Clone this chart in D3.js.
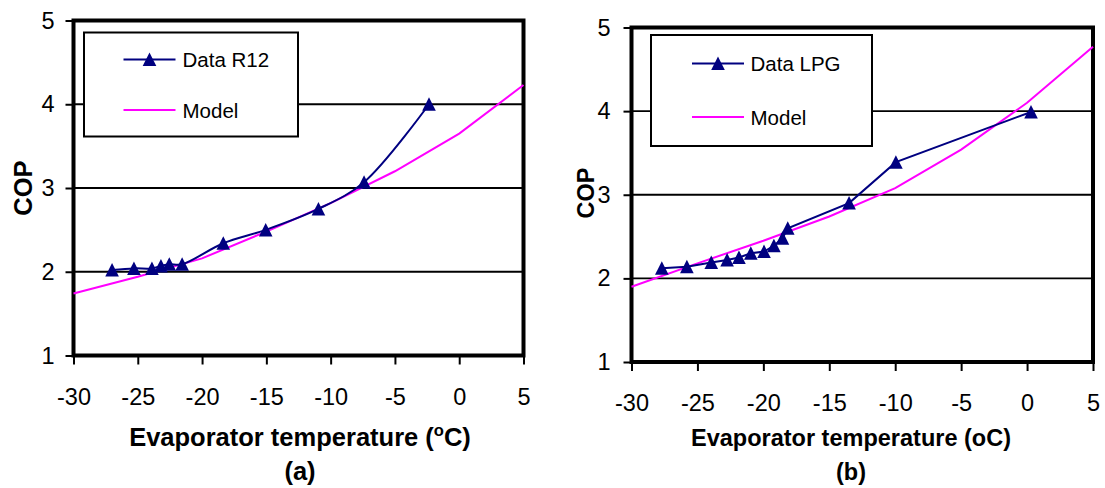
<!DOCTYPE html>
<html>
<head>
<meta charset="utf-8">
<script src="https://cdn.jsdelivr.net/npm/d3@7"></script>
<style>
body { margin: 0; background: #fff; }
svg { display: block; font-family: "Liberation Sans", Arial, sans-serif; }
</style>
</head>
<body>
<svg id="chart" width="1105" height="488"></svg>
<script>
// axis ticks, same for both panels
var xTicks = [-30, -25, -20, -15, -10, -5, 0, 5];
var yTicks = [1, 2, 3, 4, 5];
var gridTicks = [2, 3, 4];

// panel (a) : R12
var r12Temp = [-27.0, -25.3, -23.9, -23.2, -22.55, -21.55, -18.35, -15.05, -10.95, -7.4, -2.35];
var r12Cop  = [2.02, 2.04, 2.04, 2.07, 2.09, 2.09, 2.34, 2.50, 2.75, 3.07, 4.00];
var modelATemp = [-30, -25, -20, -15, -10, -5, 0, 5];
var modelACop  = [1.74, 1.94, 2.16, 2.48, 2.82, 3.20, 3.65, 4.23];

// panel (b) : LPG
var lpgTemp = [-27.7, -25.8, -23.95, -22.75, -21.85, -20.95, -19.95, -19.2, -18.55, -18.15, -13.5, -9.95, 0.3];
var lpgCop  = [2.12, 2.14, 2.19, 2.22, 2.25, 2.30, 2.32, 2.39, 2.48, 2.60, 2.90, 3.39, 3.99];
var modelBTemp = [-30, -25, -20, -15, -10, -5, 0, 5];
var modelBCop  = [1.90, 2.18, 2.45, 2.74, 3.08, 3.54, 4.10, 4.77];

var navy = "#000080", pink = "#ff00ff";
var svg = d3.select("#chart");

function zip(a, b) {
	return a.map(function (v, i) { return [v, b[i]]; });
}

function triangle(sel) {
	sel.attr("d", "M0,-7L6.8,6.5L-6.8,6.5Z").attr("fill", navy);
}

function drawPanel(p) {
	var x = d3.scaleLinear().domain([-30, 5]).range([p.left, p.right]);
	var y = d3.scaleLinear().domain([1, 5]).range([p.bottom, p.top]);
	var g = svg.append("g");

	// horizontal grid
	g.selectAll(".grid").data(gridTicks).enter().append("line")
		.attr("x1", p.left).attr("x2", p.right)
		.attr("y1", function (d) { return y(d); })
		.attr("y2", function (d) { return y(d); })
		.attr("stroke", "#000").attr("stroke-width", 1.8);

	// axes
	var ya = g.append("g")
		.attr("transform", "translate(" + p.left + ",0)")
		.call(d3.axisLeft(y).tickValues(yTicks).tickSize(8).tickPadding(p.yPad)
			.tickFormat(function (d) { return String(d); }));
	var xa = g.append("g")
		.attr("transform", "translate(0," + p.bottom + ")")
		.call(d3.axisBottom(x).tickValues(xTicks).tickSize(9).tickPadding(p.xPad)
			.tickFormat(function (d) { return String(d); }));
	[ya, xa].forEach(function (a) {
		a.attr("font-size", null).attr("font-family", null);
		a.select(".domain").remove();
		a.selectAll("line").attr("stroke", "#000").attr("stroke-width", 2);
		a.selectAll("text").attr("fill", "#000").style("font-size", p.tickFont + "px");
	});

	// plot frame
	g.append("rect")
		.attr("x", p.left).attr("y", p.top)
		.attr("width", p.right - p.left).attr("height", p.bottom - p.top)
		.attr("fill", "none").attr("stroke", "#000").attr("stroke-width", 4);

	// legend box
	g.append("rect")
		.attr("x", p.leg.x).attr("y", p.leg.y).attr("width", p.leg.w).attr("height", p.leg.h)
		.attr("fill", "#fff").attr("stroke", "#000").attr("stroke-width", 2);
	g.append("line")
		.attr("x1", p.leg.lx1).attr("x2", p.leg.lx2).attr("y1", p.leg.y1).attr("y2", p.leg.y1)
		.attr("stroke", navy).attr("stroke-width", 2);
	g.append("path")
		.attr("transform", "translate(" + ((p.leg.lx1 + p.leg.lx2) / 2) + "," + p.leg.y1 + ")")
		.call(triangle);
	g.append("line")
		.attr("x1", p.leg.lx1).attr("x2", p.leg.lx2).attr("y1", p.leg.y2).attr("y2", p.leg.y2)
		.attr("stroke", pink).attr("stroke-width", 2);
	g.append("text").attr("x", p.leg.tx).attr("y", p.leg.y1 + 7.5)
		.style("font-size", "20.5px").text(p.dataName);
	g.append("text").attr("x", p.leg.tx).attr("y", p.leg.y2 + 7.5)
		.style("font-size", "20.5px").text("Model");

	// model line
	var line = d3.line().x(function (d) { return x(d[0]); }).y(function (d) { return y(d[1]); });
	g.append("path")
		.attr("d", line(zip(p.modelT, p.modelC)))
		.attr("fill", "none").attr("stroke", pink).attr("stroke-width", 2);

	// measured data
	var pts = zip(p.dataT, p.dataC);
	g.append("path")
		.attr("d", line.curve(p.curve)(pts))
		.attr("fill", "none").attr("stroke", navy).attr("stroke-width", 2);
	g.selectAll(".mark").data(pts).enter().append("path")
		.attr("transform", function (d) { return "translate(" + x(d[0]) + "," + y(d[1]) + ")"; })
		.call(triangle);

	// axis titles
	var t = g.append("text")
		.attr("x", p.titleX).attr("y", 446)
		.attr("text-anchor", "middle")
		.style("font-size", p.titleFont + "px").style("font-weight", "bold");
	t.append("tspan").text("Evaporator temperature (");
	if (p.superO) {
		t.append("tspan").attr("dy", -10).style("font-size", (p.titleFont * 0.65) + "px").text("o");
		t.append("tspan").attr("dy", 10).text("C)");
	} else {
		t.append("tspan").text("oC)");
	}
	g.append("text")
		.attr("x", p.titleX).attr("y", 480)
		.attr("text-anchor", "middle")
		.style("font-size", p.titleFont + "px").style("font-weight", "bold")
		.text(p.label);
	g.append("text")
		.attr("transform", "translate(" + p.copX + "," + p.copY + ") rotate(-90)")
		.attr("text-anchor", "middle")
		.style("font-size", p.titleFont + "px").style("font-weight", "bold")
		.text("COP");
}

drawPanel({
	left: 73.5, right: 523.5, top: 20.5, bottom: 355.5,
	yPad: 11, xPad: 24, tickFont: 23.5, titleFont: 25.5,
	dataT: r12Temp, dataC: r12Cop, modelT: modelATemp, modelC: modelACop,
	curve: d3.curveCatmullRom.alpha(0.5), dataName: "Data R12",
	leg: { x: 84, y: 32.5, w: 214, h: 104, lx1: 123.5, lx2: 175.5, y1: 59.5, y2: 110, tx: 182.5 },
	titleX: 300, label: "(a)", superO: true, copX: 31.5, copY: 188
});

drawPanel({
	left: 631.5, right: 1093, top: 27.5, bottom: 362,
	yPad: 13, xPad: 23, tickFont: 23.5, titleFont: 23.5,
	dataT: lpgTemp, dataC: lpgCop, modelT: modelBTemp, modelC: modelBCop,
	curve: d3.curveLinear, dataName: "Data LPG",
	leg: { x: 651, y: 35, w: 221, h: 111, lx1: 692, lx2: 744, y1: 63.5, y2: 117, tx: 750.5 },
	titleX: 851, label: "(b)", superO: false, copX: 593.5, copY: 193
});
</script>
</body>
</html>
